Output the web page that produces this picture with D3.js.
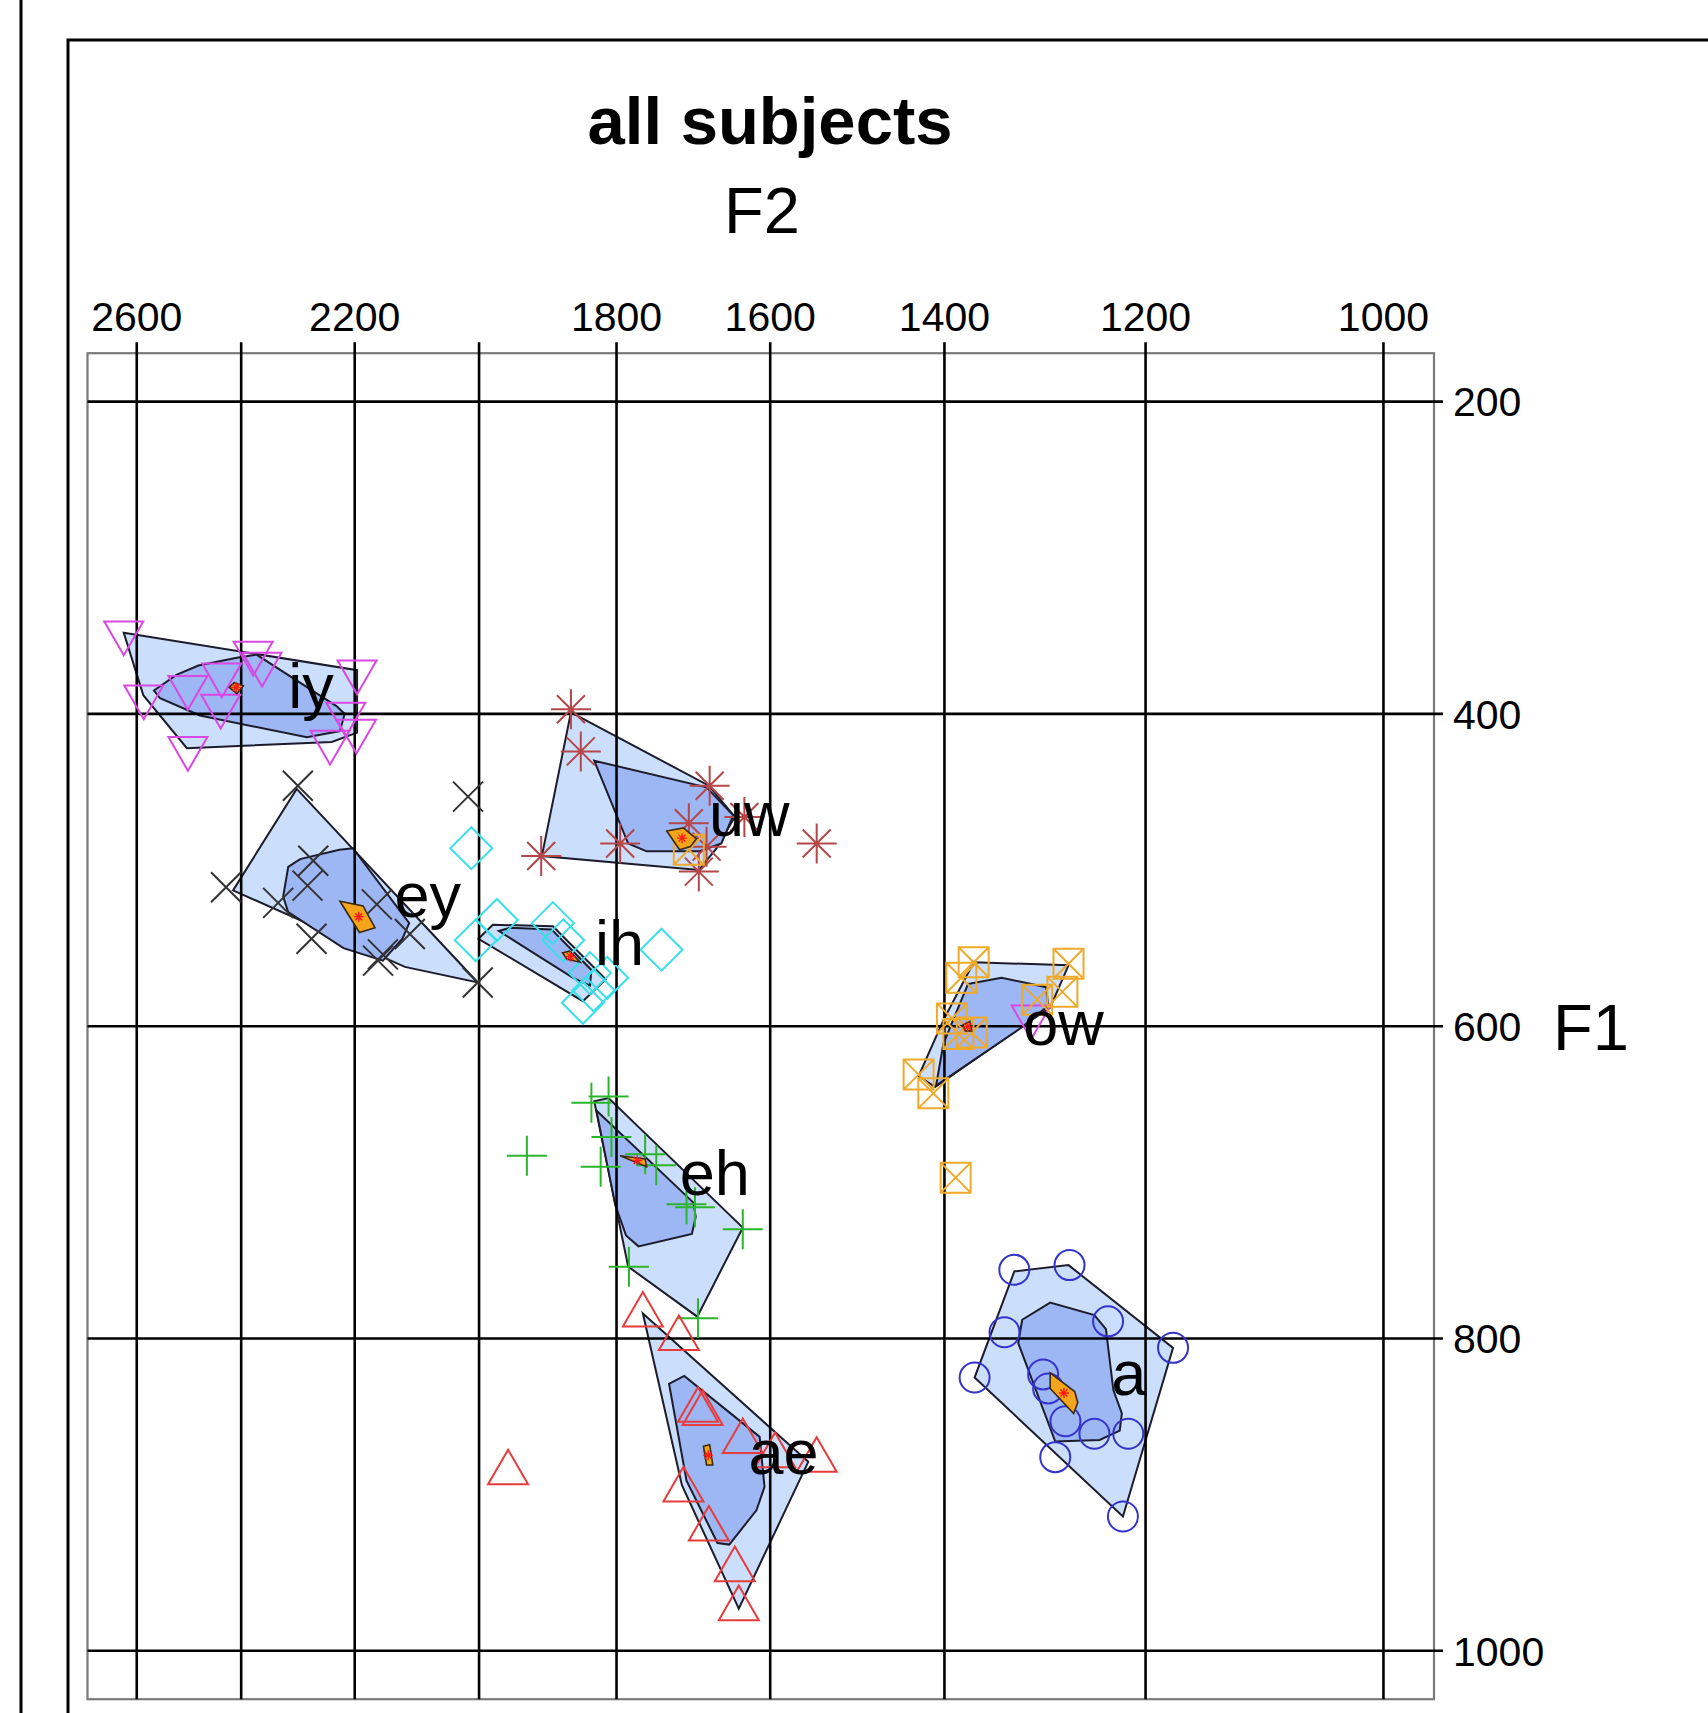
<!DOCTYPE html>
<html>
<head>
<meta charset="UTF-8">
<title>all subjects</title>
<style>
body {
    margin: 0;
    background: #fff;
}

text {
    font-family: "Liberation Sans", Arial, Helvetica, sans-serif;
    fill: #000;
}

.grid line {
    stroke: #000;
    stroke-width: 2.6px;
}

.outer {
    fill: #cbdefb;
    stroke: #1c1c2c;
    stroke-width: 2px;
}

.inner {
    fill: #9db6f4;
    stroke: #1c1c2c;
    stroke-width: 2px;
}

.core {
    fill: #f6a51a;
    stroke: #3a2a10;
    stroke-width: 1.6px;
}

.mark {
    fill: none;
    stroke-width: 2px;
}
</style>
</head>
<body>
<div class="chart"></div>
<script src="https://cdn.jsdelivr.net/npm/d3@7/dist/d3.min.js"></script>
<script>

// axis ticks
const xTicks = [2600, 2400, 2200, 2000, 1800, 1600, 1400, 1200, 1000];
const xLabels = [2600, 2200, 1800, 1600, 1400, 1200, 1000];
const yTicks = [200, 400, 600, 800, 1000];

const vowels = ["iy", "ey", "ih", "uw", "ow", "eh", "ae", "a"];

// tokens, [F2, F1] in Hz
const iyTokens = [[2626, 348], [2378, 361], [2362, 368], [2196, 373], [2586, 389], [2500, 383], [2436, 375],
    [2438, 395], [2500, 422], [2242, 418], [2215, 400], [2197, 411], [1310, 594]];
const eyTokens = [[2298, 446], [2017, 453], [2428, 511], [2271, 494], [2281, 510], [2333, 521], [2274, 544],
    [2163, 522], [2161, 558], [2153, 554], [2109, 541], [2002, 572]];
const ihTokens = [[2012, 486], [1973, 532], [2005, 545], [1890, 534], [1875, 545], [1837, 566], [1813, 569],
    [1847, 585], [1739, 551], [1832, 577]];
const uwTokens = [[1864, 397], [1850, 424], [1676, 446], [1632, 466], [1703, 470], [1795, 483], [1907, 491],
    [1690, 501], [1680, 485], [1544, 483]];
const owTokens = [[1369, 559], [1382, 569], [1273, 560], [1279, 578], [1304, 583], [1392, 595], [1371, 604],
    [1385, 605], [1428, 631], [1412, 643], [1388, 697], [1703, 487]];
const ehTokens = [[1835, 649], [1811, 645], [1807, 671], [1822, 690], [1761, 682], [1746, 689], [1706, 714],
    [1695, 716], [1634, 730], [1783, 754], [1691, 787], [1928, 683]];
const aeTokens = [[1764, 785], [1716, 800], [1956, 886], [1691, 846], [1685, 848], [1634, 866], [1594, 875],
    [1544, 878], [1710, 897], [1677, 922], [1644, 948], [1639, 973]];
const aTokens = [[1327, 756], [1272, 753], [1235, 789], [1337, 796], [1175, 806], [1368, 825], [1298, 823],
    [1293, 832], [1276, 853], [1248, 861], [1216, 861], [1286, 876], [1221, 914]];

// outer hulls
const iyOuter = [[2626, 348], [2196, 372], [2196, 412], [2239, 418], [2502, 422], [2587, 388]];
const eyOuter = [[2300, 448], [2002, 572], [2117, 562], [2415, 513]];
const ihOuter = [[2001, 544], [1979, 535], [1890, 536], [1815, 570], [1847, 584]];
const uwOuter = [[1864, 399], [1677, 446], [1644, 466], [1667, 486], [1690, 500], [1906, 491]];
const owOuter = [[1369, 559], [1273, 561], [1291, 588], [1321, 601], [1410, 639], [1428, 632], [1401, 596]];
const ehOuter = [[1831, 648], [1811, 646], [1634, 729], [1692, 786], [1784, 754]];
const aeOuter = [[1764, 784], [1554, 879], [1639, 973], [1712, 894]];
const aOuter = [[1327, 757], [1273, 753], [1175, 806], [1221, 914], [1368, 825]];

// inner hulls
const iyInner = [[2566, 385], [2522, 375], [2480, 369], [2408, 364], [2372, 362], [2231, 395], [2217, 400],
    [2225, 411], [2282, 415], [2477, 401], [2554, 390]];
const eyInner = [[2315, 498], [2294, 493], [2226, 487], [2203, 486], [2110, 534], [2121, 544], [2153, 558],
    [2219, 550], [2315, 527], [2324, 517]];
const ihInner = [[1970, 539], [1953, 537], [1892, 538], [1835, 564], [1837, 574], [1861, 569], [1926, 551]];
const uwInner = [[1831, 430], [1680, 447], [1646, 465], [1661, 483], [1689, 488], [1759, 488], [1784, 483]];
const owInner = [[1375, 573], [1340, 569], [1295, 575], [1293, 587], [1320, 601], [1409, 638], [1401, 611]];
const ehInner = [[1828, 654], [1697, 713], [1694, 722], [1699, 733], [1770, 741], [1787, 734], [1802, 714]];
const aeInner = [[1729, 829], [1709, 824], [1613, 863], [1607, 895], [1617, 910], [1651, 932], [1666, 931], [1706, 891]];
const aInner = [[1319, 788], [1291, 777], [1248, 785], [1237, 794], [1230, 833], [1222, 848], [1224, 859],
    [1243, 865], [1286, 866], [1323, 803]];

// cores
const iyCore = [[2422, 383], [2413, 380], [2396, 382], [2408, 387]];
const eyCore = [[2225, 520], [2186, 523], [2166, 537], [2192, 540]];
const ihCore = [[1876, 553], [1866, 552], [1851, 559], [1870, 557]];
const uwCore = [[1732, 475], [1710, 473], [1693, 480], [1701, 485], [1715, 487]];
const owCore = [[1380, 599], [1373, 597], [1371, 603], [1378, 603]];
const ehCore = [[1795, 683], [1761, 685], [1759, 690]];
const aeCore = [[1684, 869], [1676, 868], [1672, 881], [1680, 881]];
const aCore = [[1291, 822], [1267, 834], [1264, 841], [1268, 848], [1291, 832]];

// where each vowel label starts [F2, F1]
const labelAt = [[2315, 396], [2134, 530], [1830, 561], [1677, 478], [1318, 612], [1715, 708], [1627, 887], [1232, 836]];

const tokens = [iyTokens, eyTokens, ihTokens, uwTokens, owTokens, ehTokens, aeTokens, aTokens];
const outers = [iyOuter, eyOuter, ihOuter, uwOuter, owOuter, ehOuter, aeOuter, aOuter];
const inners = [iyInner, eyInner, ihInner, uwInner, owInner, ehInner, aeInner, aInner];
const cores = [iyCore, eyCore, ihCore, uwCore, owCore, ehCore, aeCore, aCore];

const markKind = ["triDown", "cross", "diamond", "star", "boxX", "plus", "triUp", "circle"];
const markColor = ["#d948e2", "#333333", "#3adfe8", "#b5474a", "#efaa2c", "#2cb52c", "#e63c3c", "#3434cc"];

let width = 1708, height = 1713;
let plotLeft = 87.5, plotRight = 1434, plotTop = 353.2, plotBottom = 1699.2;

let svg = d3.select('.chart').append('svg')
    .attr('width', width)
    .attr('height', height);

let xScale = d3.scaleLog().domain([2700, 962]).range([plotLeft, plotRight]);
let yScale = d3.scaleLinear().domain([169, 1031]).range([plotTop, plotBottom]);

let line = d3.line()
    .x(d => xScale(d[0]))
    .y(d => yScale(d[1]))
    .curve(d3.curveLinearClosed);

// outer page frame
svg.append('line').attr('x1', 21).attr('x2', 21).attr('y1', 0).attr('y2', height)
    .attr('stroke', '#000').attr('stroke-width', 3);
svg.append('path').attr('d', `M68,${height}V40H${width}`)
    .attr('fill', 'none').attr('stroke', '#000').attr('stroke-width', 3);

svg.append('text').attr('x', 770).attr('y', 144).attr('text-anchor', 'middle')
    .style('font-size', '67px').style('font-weight', 'bold').text('all subjects');
svg.append('text').attr('x', 762).attr('y', 233).attr('text-anchor', 'middle')
    .style('font-size', '65px').text('F2');
svg.append('text').attr('x', 1553).attr('y', yScale(600)).attr('dy', '0.36em')
    .style('font-size', '65px').text('F1');

// hulls under the grid
let hulls = svg.append('g');
outers.forEach(p => hulls.append('path').attr('class', 'outer').attr('d', line(p)));
inners.forEach(p => hulls.append('path').attr('class', 'inner').attr('d', line(p)));

// plot frame
svg.append('rect')
    .attr('x', plotLeft).attr('y', plotTop)
    .attr('width', plotRight - plotLeft).attr('height', plotBottom - plotTop)
    .attr('fill', 'none').attr('stroke', '#7a7a7a').attr('stroke-width', 2.2);

// grid + ticks
let grid = svg.append('g').attr('class', 'grid');
grid.selectAll('.vx').data(xTicks).join('line')
    .attr('x1', d => xScale(d)).attr('x2', d => xScale(d))
    .attr('y1', plotTop - 11).attr('y2', plotBottom);
grid.selectAll('.hy').data(yTicks).join('line')
    .attr('x1', plotLeft).attr('x2', plotRight + 9)
    .attr('y1', d => yScale(d)).attr('y2', d => yScale(d));

svg.append('g').selectAll('text').data(xLabels).join('text')
    .attr('x', d => xScale(d)).attr('y', 331)
    .attr('text-anchor', 'middle')
    .style('font-size', '41px')
    .text(d => d);

svg.append('g').selectAll('text').data(yTicks).join('text')
    .attr('x', 1453).attr('y', d => yScale(d)).attr('dy', '0.36em')
    .style('font-size', '41px')
    .text(d => d);

function markerPath(kind) {
    switch (kind) {
	case 'triDown': {
	    let s = 39, h = s * Math.sqrt(3) / 2;
	    return `M${-s / 2},${-h / 3}L${s / 2},${-h / 3}L0,${2 * h / 3}Z`;
	}
	case 'triUp': {
	    let s = 40, h = s * Math.sqrt(3) / 2;
	    return `M0,${-2 * h / 3}L${s / 2},${h / 3}L${-s / 2},${h / 3}Z`;
	}
	case 'cross':
	    return 'M-15,-15L15,15M-15,15L15,-15';
	case 'plus':
	    return 'M-20,0H20M0,-20V20';
	case 'diamond':
	    return 'M0,-21L21,0L0,21L-21,0Z';
	case 'star':
	    return 'M-20,0H20M0,-20V20M-14,-14L14,14M-14,14L14,-14';
	case 'boxX':
	    return 'M-15,-15H15V15H-15ZM-15,-15L15,15M-15,15L15,-15';
	case 'circle':
	    return 'M15,0A15,15 0 1,1 -15,0A15,15 0 1,1 15,0Z';
    }
}

// tokens
tokens.forEach((pts, i) => {
    svg.append('g').selectAll('path').data(pts).join('path')
	.attr('class', 'mark')
	.attr('transform', d => `translate(${xScale(d[0])},${yScale(d[1])})`)
	.attr('d', markerPath(markKind[i]))
	.attr('stroke', markColor[i]);
});

// cores with red mean star
cores.forEach(p => {
    svg.append('path').attr('class', 'core').attr('d', line(p));
    let c = d3.polygonCentroid(p.map(d => [xScale(d[0]), yScale(d[1])]));
    svg.append('path')
	.attr('transform', `translate(${c[0]},${c[1]})`)
	.attr('d', 'M-5,0H5M0,-5V5M-3.5,-3.5L3.5,3.5M-3.5,3.5L3.5,-3.5')
	.attr('stroke', '#ff1a1a').attr('stroke-width', 1.4);
});

// vowel labels
svg.append('g').selectAll('text').data(vowels).join('text')
    .attr('x', (d, i) => xScale(labelAt[i][0]))
    .attr('y', (d, i) => yScale(labelAt[i][1]))
    .style('font-size', '63px')
    .text(d => d);

</script>
</body>
</html>
